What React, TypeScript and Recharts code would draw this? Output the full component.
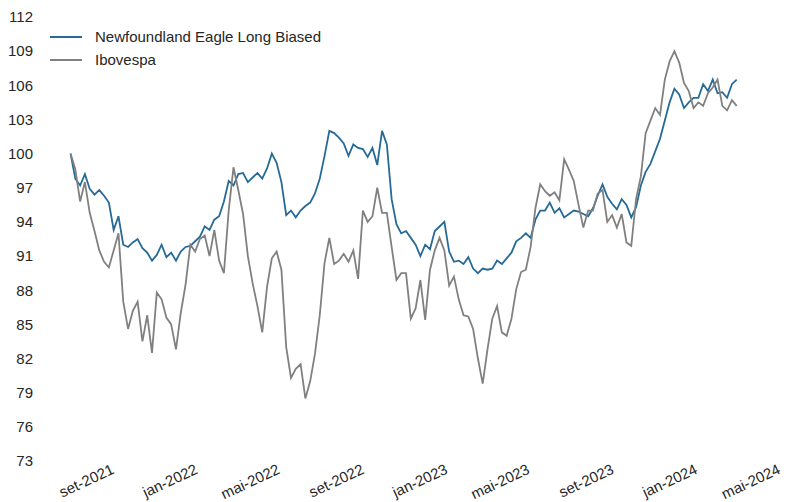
import { LineChart, Line, XAxis, YAxis } from "recharts";

// weekly closes, base 100, starting on this date
const startDate = "2021-06-25";

const fund = [
  100.0, 97.8, 97.2, 98.2, 96.9, 96.4, 96.8, 96.3, 95.7, 93.3,
  94.5, 92.0, 91.8, 92.2, 92.5, 91.7, 91.3, 90.6, 91.1, 92.0,
  90.9, 91.3, 90.6, 91.4, 91.8, 91.9, 92.3, 92.7, 93.6, 93.3,
  94.2, 94.5, 95.8, 97.6, 97.2, 98.2, 98.3, 97.5, 97.9, 98.3,
  97.8, 98.7, 100.0, 99.2, 97.5, 94.6, 95.0, 94.4, 95.0, 95.4,
  95.7, 96.5, 97.8, 99.8, 102.0, 101.8, 101.4, 100.9, 99.8, 100.8,
  100.5, 100.4, 99.7, 100.5, 99.0, 102.0, 100.8, 96.0, 93.8, 93.0,
  93.2, 92.6, 92.0, 91.0, 92.0, 91.6, 93.2, 93.6, 94.0, 91.4,
  90.5, 90.6, 90.3, 90.9, 89.9, 89.5, 89.9, 89.8, 89.9, 90.6,
  90.3, 90.8, 91.3, 92.3, 92.6, 93.0, 92.6, 94.2, 95.0, 95.0,
  95.7, 94.8, 95.2, 94.4, 94.7, 95.0, 94.9, 94.7, 94.5, 95.2,
  96.3, 97.3, 96.2, 95.6, 95.1, 96.0, 95.5, 94.4, 95.3, 97.2,
  98.4, 99.1, 100.2, 101.3, 102.9, 104.5, 105.7, 105.2, 104.0, 104.5,
  104.9, 104.9, 106.1, 105.5, 106.5, 105.3, 105.4, 104.9, 106.1, 106.5,
];

const ibov = [
  100.0, 98.6, 95.8, 97.5, 94.8, 93.2, 91.5, 90.5, 90.0, 91.5,
  93.0, 87.0, 84.6, 86.2, 87.0, 83.5, 85.8, 82.5, 87.8, 87.2,
  85.6, 85.0, 82.8, 86.0, 88.5, 92.0, 91.4, 92.5, 92.8, 91.0,
  93.3, 90.6, 89.5, 95.0, 98.8, 96.8, 94.7, 91.0, 88.6, 86.6,
  84.3, 88.3, 90.8, 91.4, 89.8, 83.0, 80.3, 81.1, 81.5, 78.5,
  80.0, 82.4, 85.8, 90.4, 92.6, 90.3, 90.6, 91.2, 90.5, 91.5,
  89.0, 95.0, 94.0, 94.5, 97.0, 94.8, 94.8, 91.8, 88.9, 89.5,
  89.5, 85.5, 86.4, 88.9, 85.4, 89.8, 91.5, 92.6, 91.5, 88.4,
  89.2, 87.2, 85.8, 85.7, 84.6, 82.0, 79.8, 82.8, 85.5, 86.6,
  84.3, 84.0, 85.5, 88.1, 89.6, 89.8, 91.8, 95.2, 97.3, 96.7,
  96.3, 96.6, 95.9, 99.5, 98.6, 97.6, 95.5, 93.5, 95.0, 95.0,
  96.5, 96.8, 94.0, 94.6, 93.5, 94.7, 92.2, 91.9, 96.0, 98.0,
  101.8, 102.9, 104.0, 103.4, 106.5, 108.1, 109.0, 108.0, 106.2, 105.5,
  104.0, 104.5, 104.2, 105.3, 105.8, 106.5, 104.2, 103.8, 104.7, 104.2,
];

const yTicks = [73, 76, 79, 82, 85, 88, 91, 94, 97, 100, 103, 106, 109, 112];
const xTickDates = [
  "2021-09-01", "2022-01-01", "2022-05-01", "2022-09-01", "2023-01-01",
  "2023-05-01", "2023-09-01", "2024-01-01", "2024-05-01",
];
const monthNames = ["jan", "fev", "mar", "abr", "mai", "jun", "jul", "ago", "set", "out", "nov", "dez"];

const DAY = 86400000;
const t0 = Date.parse(startDate);
const data = fund.map((v, i) => ({ t: t0 + i * 7 * DAY, fund: v, ibov: ibov[i] }));
const xTicks = xTickDates.map((d) => Date.parse(d));

const FONT = "'Liberation Sans', Arial, sans-serif";
const BLUE = "#266a97";
const GRAY = "#808080";

function DateTick({ x, y, payload }: any) {
  const d = new Date(payload.value);
  const label = `${monthNames[d.getUTCMonth()]}-${d.getUTCFullYear()}`;
  return (
    <text
      transform={`translate(${x - 2}, ${y + 4}) rotate(-25)`}
      textAnchor="end"
      fontSize={15}
      fontFamily={FONT}
      fill="#262626"
    >
      {label}
    </text>
  );
}

function ChartLegend() {
  const items = [
    { label: "Newfoundland Eagle Long Biased", color: BLUE },
    { label: "Ibovespa", color: GRAY },
  ];
  return (
    <div style={{ position: "absolute", left: 50, top: 25, fontFamily: FONT, fontSize: 15, color: "#262626" }}>
      {items.map((it) => (
        <div key={it.label} style={{ display: "flex", alignItems: "center", height: 23 }}>
          <span style={{ display: "inline-block", width: 32, height: 2, background: it.color, marginRight: 13 }} />
          <span>{it.label}</span>
        </div>
      ))}
    </div>
  );
}

export default function App() {
  return (
    <div style={{ position: "absolute", left: 0, top: 0, width: 788, height: 502, background: "#fff" }}>
      <LineChart width={788} height={502} data={data} margin={{ top: 17, right: 2, bottom: 0, left: 0 }}>
        <XAxis
          dataKey="t"
          type="number"
          scale="time"
          domain={[Date.parse("2021-05-26"), Date.parse("2024-05-05")]}
          ticks={xTicks}
          tick={<DateTick />}
          axisLine={false}
          tickLine={false}
          height={41}
          interval={0}
        />
        <YAxis
          domain={[73, 112]}
          ticks={yTicks}
          width={50}
          axisLine={false}
          tickLine={false}
          tickMargin={11}
          tick={{ fontSize: 15, fill: "#262626", fontFamily: FONT }}
          interval={0}
        />
        <Line
          type="linear"
          dataKey="fund"
          name="Newfoundland Eagle Long Biased"
          stroke={BLUE}
          strokeWidth={1.8}
          dot={false}
          isAnimationActive={false}
        />
        <Line
          type="linear"
          dataKey="ibov"
          name="Ibovespa"
          stroke={GRAY}
          strokeWidth={1.8}
          dot={false}
          isAnimationActive={false}
        />
      </LineChart>
      <ChartLegend />
    </div>
  );
}
